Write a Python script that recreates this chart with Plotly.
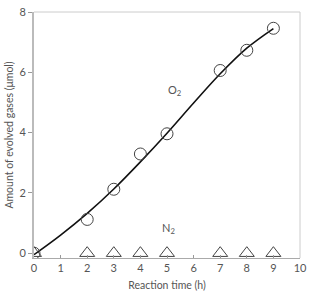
import plotly.graph_objects as go

time_h = [0, 2, 3, 4, 5, 7, 8, 9]
o2_umol = [0.0, 1.12, 2.12, 3.29, 3.96, 6.06, 6.73, 7.46]
n2_umol = [0, 0, 0, 0, 0, 0, 0, 0]

fit_x = [0, 1, 2, 3, 4, 5, 6, 7, 8, 9]
fit_y = [-0.05, 0.6, 1.32, 2.13, 3.03, 3.98, 4.98, 5.95, 6.8, 7.45]

x_ticks = [0, 1, 2, 3, 4, 5, 6, 7, 8, 9, 10]
y_ticks = [0, 2, 4, 6, 8]

FONT = "Lato"

fig = go.Figure()
fig.add_trace(go.Scatter(x=fit_x, y=fit_y, mode="lines",
                         line=dict(color="#111", width=1.6, shape="spline", smoothing=1.0),
                         showlegend=False, hoverinfo="skip"))
fig.add_trace(go.Scatter(x=time_h, y=o2_umol, mode="markers",
                         marker=dict(symbol="circle-open", size=12, color="#444",
                                     line=dict(width=1, color="#444")),
                         showlegend=False))
fig.add_trace(go.Scatter(x=time_h, y=n2_umol, mode="markers",
                         marker=dict(symbol="triangle-up-open", size=13, color="#444",
                                     line=dict(width=1, color="#444")),
                         showlegend=False))

fig.add_annotation(x=5.3, y=5.38, text="O<sub>2</sub>", showarrow=False,
                   font=dict(family=FONT, size=11, color="#555"))
fig.add_annotation(x=5.07, y=0.82, text="N<sub>2</sub>", showarrow=False,
                   font=dict(family=FONT, size=11, color="#555"))

fig.update_layout(
    width=312, height=295,
    margin=dict(l=34, r=5, t=6, b=36),
    plot_bgcolor="white", paper_bgcolor="white",
    font=dict(family=FONT, size=11, color="#555"),
    shapes=[dict(type="line", xref="paper", yref="paper", x0=0, x1=1, y0=1, y1=1,
                 line=dict(color="#ccc", width=1)),
            dict(type="line", xref="paper", yref="paper", x0=1, x1=1, y0=0, y1=1,
                 line=dict(color="#ccc", width=1))],
)
fig.update_xaxes(range=[0, 10], tickvals=x_ticks, ticks="inside", ticklen=3,
                 tickcolor="#999", showline=True, linecolor="#aaa", linewidth=1,
                 showgrid=False, zeroline=False, ticklabeloverflow="allow",
                 tickfont=dict(size=11, color="#555"),
                 title=dict(text="Reaction time (h)", font=dict(size=10.5, color="#555"), standoff=8))
fig.update_yaxes(range=[-0.16, 8], tickvals=y_ticks, ticks="outside", ticklen=4,
                 tickcolor="#999", showline=True, linecolor="#bbb", linewidth=2,
                 showgrid=False, zeroline=False, ticklabeloverflow="allow",
                 tickfont=dict(size=11, color="#555"),
                 title=dict(text="Amount of evolved gases (μmol)", font=dict(size=10.5, color="#555"), standoff=4))

fig.write_html("out.html")
